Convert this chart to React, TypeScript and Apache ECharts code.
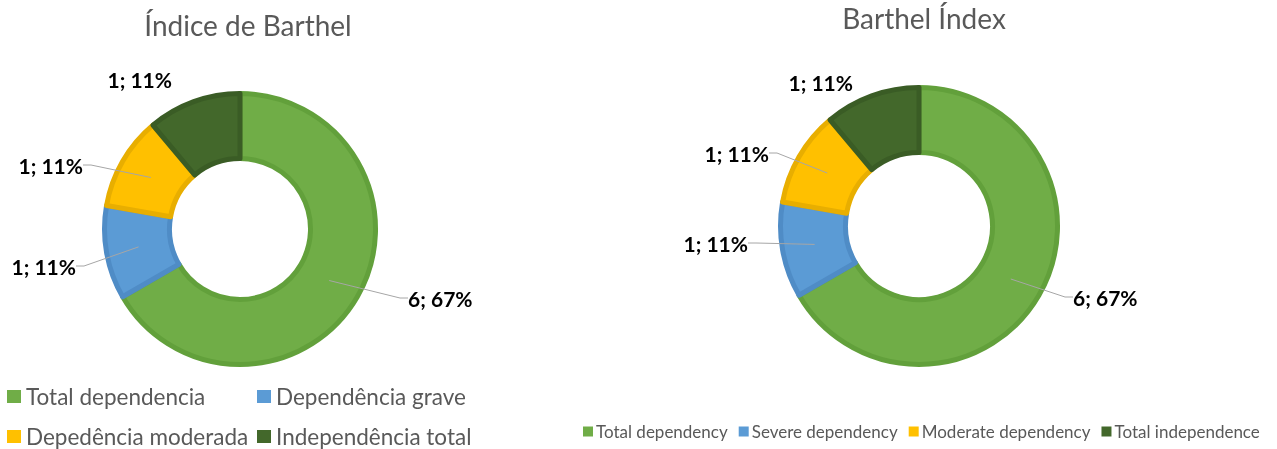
import React, { useEffect, useRef } from "react";
import * as echarts from "echarts";

const leftTitle = "Índice de Barthel";
const rightTitle = "Barthel Índex";
const leftCategories = ["Total dependencia", "Dependência grave", "Depedência moderada", "Independência total"];
const rightCategories = ["Total dependency", "Severe dependency", "Moderate dependency", "Total independence"];
const values = [6, 1, 1, 1];
const fillColors = ["#70AD47", "#5B9BD5", "#FFC000", "#43682B"];
const borderColors = ["#62A03B", "#4F8CC6", "#E8AE00", "#3A5C25"];

// layout (not data)
const LEFT = { cx: 240, cy: 229, inner: 68, outer: 138 };
const RIGHT = { cx: 919, cy: 226, inner: 71, outer: 141 };
const BW = 5;
const leftLabelPos = [
  { x: 401, y: 298, align: "left" },
  { x: 83, y: 266, align: "right" },
  { x: 90, y: 165, align: "right" },
  { x: 179, y: 79, align: "right" },
];
const rightLabelPos = [
  { x: 1066, y: 297, align: "left" },
  { x: 755, y: 243, align: "right" },
  { x: 776, y: 153, align: "right" },
  { x: 860, y: 82, align: "right" },
];
const leftLegendPos = [
  { left: 7, top: 385 },
  { left: 257, top: 385 },
  { left: 7, top: 425 },
  { left: 257, top: 425 },
];

function ringSeries(names: string[], g: any) {
  return {
    type: "pie",
    z: 2,
    center: [g.cx, g.cy],
    radius: [g.inner + BW / 2, g.outer - BW / 2],
    startAngle: 90,
    clockwise: true,
    silent: true,
    label: { show: false },
    labelLine: { show: false },
    emphasis: { disabled: true },
    data: names.map((n, i) => ({
      name: n,
      value: values[i],
      itemStyle: { color: fillColors[i], borderColor: borderColors[i], borderWidth: BW },
    })),
  };
}

function labelSeries(names: string[], g: any, pos: any[]) {
  return {
    type: "pie",
    z: 5,
    center: [g.cx, g.cy],
    radius: [0, (g.inner + g.outer) / 2],
    startAngle: 90,
    clockwise: true,
    silent: true,
    percentPrecision: 0,
    emphasis: { disabled: true },
    itemStyle: { color: "rgba(0,0,0,0)", borderWidth: 0 },
    label: {
      show: true,
      position: "outside",
      formatter: "{c}; {d}%",
      fontFamily: "Lato",
      fontWeight: "bold",
      fontSize: 21,
      color: "#000000",
      padding: [0, 7],
    },
    labelLine: { show: true, length: 10, length2: 8, lineStyle: { color: "#A6A6A6", width: 1 } },
    labelLayout: (p: any) => {
      const q = pos[p.dataIndex];
      return { x: q.x, y: q.y, align: q.align, verticalAlign: "middle" };
    },
    data: names.map((n, i) => ({
      name: n,
      value: values[i],
      labelLine: { show: i !== 3 },
    })),
  };
}

export default function App() {
  const ref = useRef<HTMLDivElement>(null);
  useEffect(() => {
    if (!ref.current) return;
    const chart = echarts.init(ref.current, null, { renderer: "svg" });
    const legendText = { color: "#595959", fontFamily: "Lato" };
    const leftLegends = leftCategories.map((name, i) => ({
      data: [name],
      orient: "horizontal",
      left: leftLegendPos[i].left,
      top: leftLegendPos[i].top,
      padding: 0,
      icon: "rect",
      itemWidth: 14,
      itemHeight: 13,
      selectedMode: false,
      itemStyle: { borderWidth: 0 },
      textStyle: { ...legendText, fontSize: 22.5, lineHeight: 20 },
    }));
    chart.setOption({
      animation: false,
      graphic: [
        {
          type: "text",
          x: 248,
          y: 25,
          style: {
            text: leftTitle,
            textAlign: "center",
            textVerticalAlign: "middle",
            fontFamily: "Lato",
            fontSize: 28,
            fill: "#595959",
          },
        },
        {
          type: "text",
          x: 924,
          y: 18,
          style: {
            text: rightTitle,
            textAlign: "center",
            textVerticalAlign: "middle",
            fontFamily: "Lato",
            fontSize: 28,
            fill: "#595959",
          },
        },
      ],
      legend: [
        ...leftLegends,
        {
          data: rightCategories,
          orient: "horizontal",
          left: 583,
          top: 423,
          padding: 0,
          icon: "rect",
          itemWidth: 10,
          itemHeight: 10,
          itemGap: 11,
          selectedMode: false,
          itemStyle: { borderWidth: 0 },
          textStyle: { ...legendText, fontSize: 17, lineHeight: 16, padding: [0, 0, 0, -2] },
        },
      ],
      series: [
        ringSeries(leftCategories, LEFT),
        ringSeries(rightCategories, RIGHT),
        labelSeries(leftCategories, LEFT, leftLabelPos),
        labelSeries(rightCategories, RIGHT, rightLabelPos),
      ],
    });
    return () => chart.dispose();
  }, []);
  return <div ref={ref} style={{ position: "fixed", left: 0, top: 0, width: 1277, height: 449 }} />;
}
